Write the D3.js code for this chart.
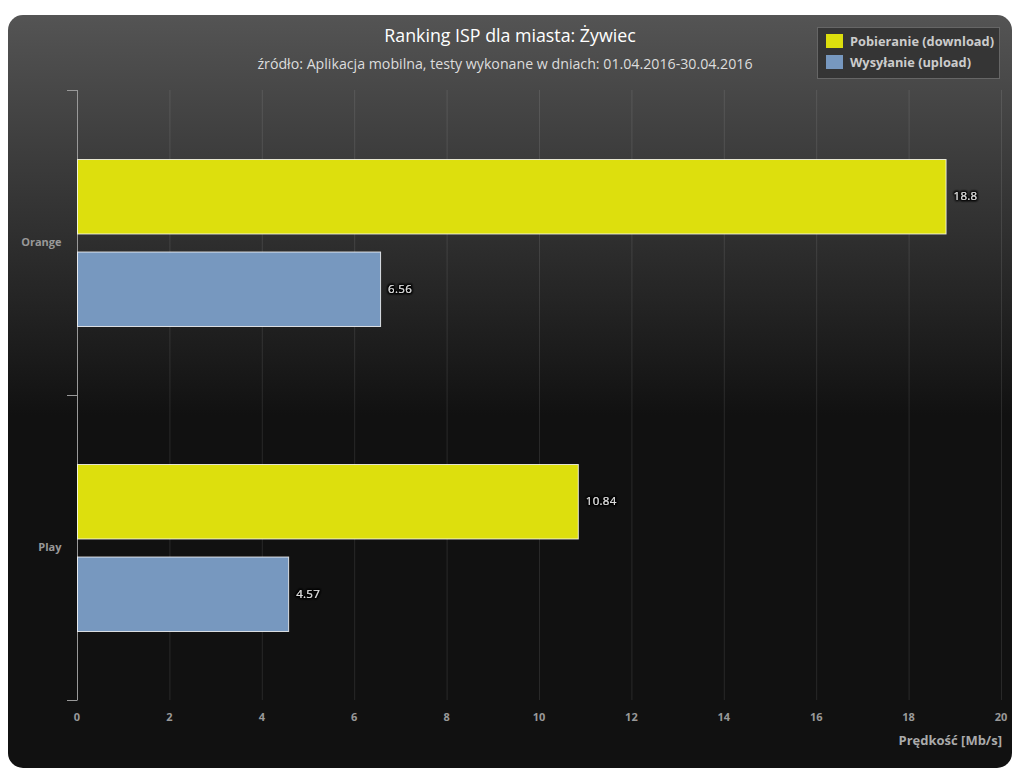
<!DOCTYPE html>
<html><head><meta charset="utf-8">
<script src="https://cdn.jsdelivr.net/npm/d3@7"></script>
<style>
html,body{margin:0;padding:0;background:#fff;}
svg{display:block;font-family:"Open Sans","DejaVu Sans",sans-serif;}
</style></head>
<body><svg id="c" width="1024" height="784"></svg>
<script>
const categories = ["Orange", "Play"];
const seriesNames = ["Pobieranie (download)", "Wysyłanie (upload)"];
const downloadValues = [18.8, 10.84];
const uploadValues = [6.56, 4.57];
const xTicks = [0, 2, 4, 6, 8, 10, 12, 14, 16, 18, 20];
const colors = ["#DDDF0D", "#7798BF"];
const titleText = "Ranking ISP dla miasta: Żywiec";
const subtitleText = "źródło: Aplikacja mobilna, testy wykonane w dniach: 01.04.2016-30.04.2016";
const axisTitle = "Prędkość [Mb/s]";

(function(){
const svg = d3.select("#c");
const defs = svg.append("defs");
const g = defs.append("linearGradient").attr("id","bg").attr("gradientUnits","userSpaceOnUse")
  .attr("x1",0).attr("y1",15).attr("x2",0).attr("y2",415);
g.append("stop").attr("offset",0).attr("stop-color","rgb(84,84,84)");
g.append("stop").attr("offset",1).attr("stop-color","rgb(17,17,17)");
const f = defs.append("filter").attr("id","glow").attr("x","-20%").attr("y","-40%").attr("width","140%").attr("height","180%");
f.append("feMorphology").attr("in","SourceAlpha").attr("operator","dilate").attr("radius",1).attr("result","d");
f.append("feGaussianBlur").attr("in","d").attr("stdDeviation",1).attr("result","b");
f.append("feFlood").attr("flood-color","#000");
f.append("feComposite").attr("in2","b").attr("operator","in").attr("result","s");
const m = f.append("feMerge"); m.append("feMergeNode").attr("in","s"); m.append("feMergeNode").attr("in","s"); m.append("feMergeNode").attr("in","SourceGraphic");

svg.append("rect").attr("x",8).attr("y",15).attr("width",1004).attr("height",753)
  .attr("rx",15).attr("fill","url(#bg)");

const pl = 77, pr = 1001, pt = 90, pb = 700;
const x = d3.scaleLinear().domain([0,20]).range([pl,pr]);
const y = d3.scaleBand().domain(categories).range([pt,pb]);
const inner = d3.scaleBand().domain([0,1]).range([69, y.bandwidth()-69]).paddingInner(0.195);

svg.append("g").selectAll("line").data(xTicks.slice(1)).join("line")
  .attr("x1",d=>x(d)+0.5).attr("x2",d=>x(d)+0.5).attr("y1",pt).attr("y2",pb)
  .attr("stroke","rgba(255,255,255,0.1)");

svg.append("g").selectAll("text").data(xTicks).join("text")
  .attr("x",d=>x(d)).attr("y",721).attr("text-anchor","middle")
  .attr("fill","#999").attr("font-weight","bold").attr("font-size",11).text(d=>d);

svg.append("text").attr("x",1002).attr("y",745).attr("text-anchor","end")
  .attr("fill","#AAA").attr("font-weight","bold").attr("font-size",13).text(axisTitle);

const yAxis = d3.axisLeft(y).tickSize(0).tickPadding(16);
const ya = svg.append("g").attr("transform",`translate(${pl+0.5},0)`).call(yAxis);
ya.select(".domain").remove();
ya.selectAll("text").attr("fill","#999").attr("font-weight","bold").attr("font-size",11)
  .attr("font-family","'Open Sans','DejaVu Sans',sans-serif");
svg.append("line").attr("x1",pl+0.5).attr("x2",pl+0.5).attr("y1",pt).attr("y2",pb).attr("stroke","#999");
const bounds = [pt, y(categories[1]), pb];
svg.append("g").selectAll("line").data(bounds).join("line")
  .attr("x1",67).attr("x2",pl+0.5).attr("y1",d=>d+0.5).attr("y2",d=>d+0.5).attr("stroke","#999");

const series = [downloadValues, uploadValues];
series.forEach((vals,si)=>{
  const gg = svg.append("g");
  gg.selectAll("rect").data(vals).join("rect")
    .attr("x",x(0)+0.5).attr("y",(d,i)=>y(categories[i])+inner(si)+0.5)
    .attr("width",d=>x(d)-x(0)).attr("height",inner.bandwidth())
    .attr("fill",colors[si]).attr("stroke","#fff").attr("stroke-opacity",0.8).attr("stroke-width",1);
  gg.selectAll("text").data(vals).join("text")
    .attr("x",d=>x(d)+8).attr("y",(d,i)=>y(categories[i])+inner(si)+inner.bandwidth()/2+4)
    .attr("fill","#ddd").attr("font-size",11.5).attr("letter-spacing",0.3).attr("filter","url(#glow)")
    .text(d=>d);
});

svg.append("text").attr("x",510).attr("y",42).attr("text-anchor","middle").attr("fill","#fff")
  .attr("font-size",17.8).text(titleText);
svg.append("text").attr("x",505).attr("y",69).attr("text-anchor","middle").attr("fill","#ddd")
  .attr("font-size",14.2).text(subtitleText);

const lg = svg.append("g");
lg.append("rect").attr("x",817.5).attr("y",27.5).attr("width",182).attr("height",51)
  .attr("fill","rgba(48,48,48,0.8)").attr("stroke","#666");
seriesNames.forEach((n,i)=>{
  lg.append("rect").attr("x",826).attr("y",34+i*21).attr("width",17).attr("height",14).attr("fill",colors[i]);
  lg.append("text").attr("x",850).attr("y",46+i*21).attr("fill","#ccc").attr("font-weight","bold")
    .attr("font-size",12.8).text(n);
});
})();
</script></body></html>
